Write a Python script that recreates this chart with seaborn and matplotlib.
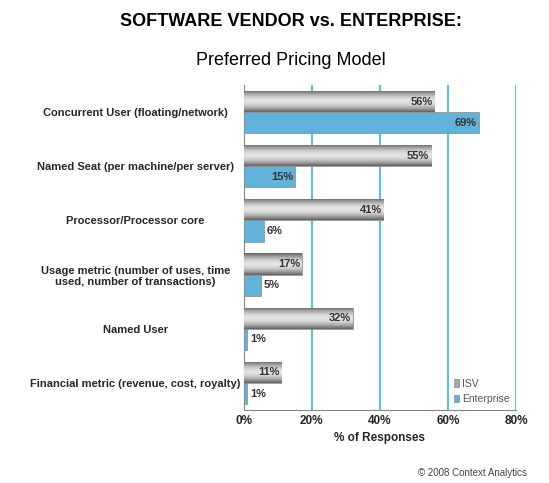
import matplotlib
matplotlib.use("Agg")
import matplotlib.pyplot as plt
import seaborn as sns
import pandas as pd
import numpy as np

categories = ["Concurrent User (floating/network)", "Named Seat (per machine/per server)",
              "Processor/Processor core", "Usage metric (number of uses, time\nused, number of transactions)",
              "Named User", "Financial metric (revenue, cost, royalty)"]
isv = [56, 55, 41, 17, 32, 11]
enterprise = [69, 15, 6, 5, 1, 1]
series = ["ISV", "Enterprise"]

df = pd.DataFrame({"cat": categories * 2, "val": isv + enterprise,
                   "series": [series[0]] * 6 + [series[1]] * 6})

sns.set_style("white")
plt.rcParams["font.family"] = ["Liberation Sans", "DejaVu Sans"]
fig = plt.figure(figsize=(5.49, 4.83), dpi=100)
ax = fig.add_axes([0.444, 0.151, 0.496, 0.673])
sns.barplot(data=df, y="cat", x="val", hue="series", orient="h", ax=ax,
            palette={"ISV": "#a6a6a6", "Enterprise": "#4fb9ee"}, width=0.78,
            edgecolor="#8a8a8a", linewidth=0.5, zorder=3)
ax.set_xlim(0, 80)
ax.set_xticks([0, 20, 40, 60, 80])
ax.set_xticklabels(["0%", "20%", "40%", "60%", "80%"], fontsize=8.5, fontweight="bold")
ax.set_yticklabels(categories, fontsize=8, fontweight="bold", ha="center")
ax.tick_params(axis="y", pad=78, length=0)
ax.tick_params(axis="x", length=0)
ax.set_ylabel("")
ax.set_xlabel("% of Responses", fontsize=8.5, fontweight="bold")
for x in [20, 40, 60, 80]:
    ax.axvline(x, color="#33b5e8", lw=1.2, zorder=1)
for s in ["top", "right"]:
    ax.spines[s].set_visible(False)
ax.spines["left"].set_color("#888")
ax.spines["bottom"].set_color("#888")

grad = np.linspace(0, 1, 50)
grad = 0.55 + 0.45 * np.sin(np.pi * grad)
for p in ax.containers[0]:
    x0, y0 = p.get_x(), p.get_y()
    w, h = p.get_width(), p.get_height()
    im = ax.imshow(grad.reshape(-1, 1), cmap="gray", vmin=0.2, vmax=1.1, aspect="auto",
                   extent=[x0, x0 + w, y0 + h, y0], zorder=3.5)
    im.set_clip_path(p)
ax.set_ylim(5.5, -0.5)
for cont in ax.containers:
    for p in cont:
        w = p.get_width()
        y = p.get_y() + p.get_height() / 2
        if w < 10:
            ax.text(w + 0.8, y, f"{int(w)}%", ha="left", va="center",
                    fontsize=8, fontweight="bold", color="#333", zorder=5)
        else:
            ax.text(w - 0.5, y, f"{int(w)}%", ha="right", va="center",
                    fontsize=8, fontweight="bold", color="#333", zorder=5)
leg = ax.legend(loc="lower right", fontsize=7.5, frameon=False, handlelength=0.5,
                handletextpad=0.3, borderaxespad=0.2, bbox_to_anchor=(1.0, 0.0))
for t in leg.get_texts():
    t.set_color("#555")

fig.text(0.53, 0.955, "SOFTWARE VENDOR vs. ENTERPRISE:", ha="center", va="center",
         fontsize=13, fontweight="bold", color="black")
fig.text(0.53, 0.875, "Preferred Pricing Model", ha="center", va="center", fontsize=13, color="black")
fig.text(0.96, 0.02, "© 2008 Context Analytics", ha="right", va="center", fontsize=7, color="#444")
fig.savefig("out.png", dpi=100)
